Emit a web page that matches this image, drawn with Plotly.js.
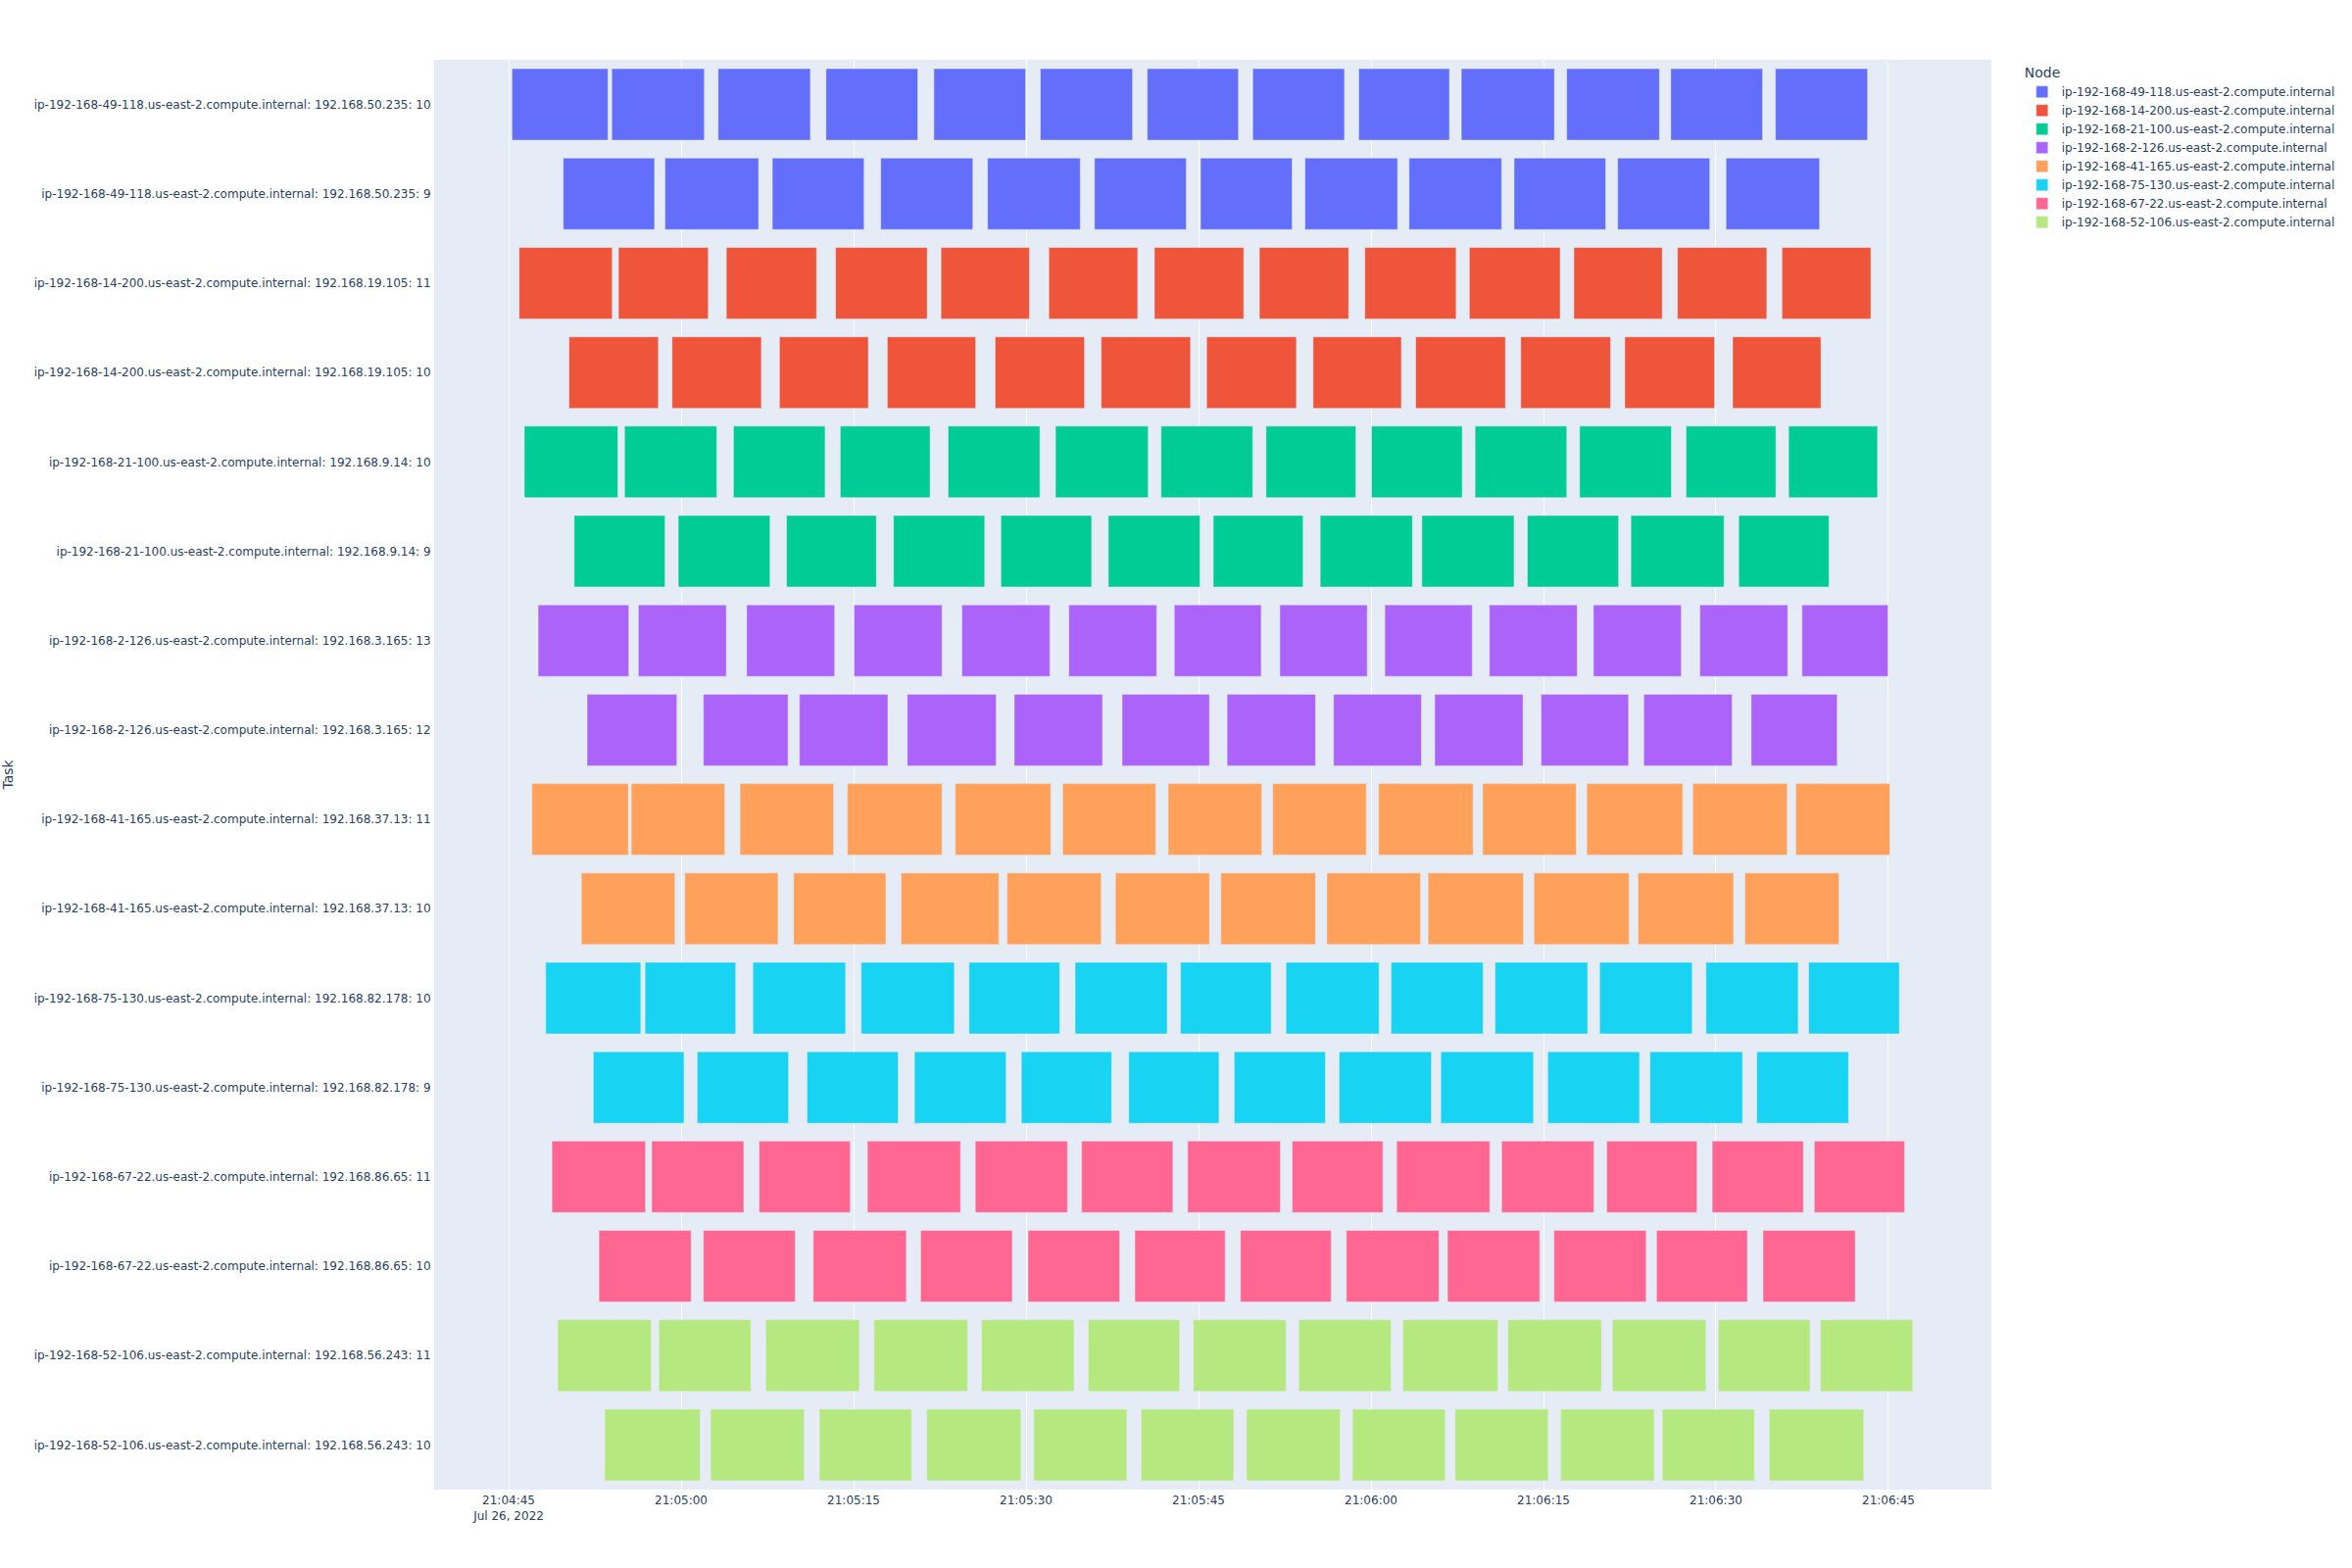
<!DOCTYPE html>
<html>
<head>
<meta charset="utf-8">
<script src="https://cdn.plot.ly/plotly-3.0.1.min.js"></script>
<style>html,body{margin:0;padding:0;background:#fff}#chart{width:2400px;height:1600px}</style>
</head>
<body>
<div id="chart"></div>
<script>
// Base time of the x axis reading: offsets below are seconds after 2022-07-26 21:04:45
const baseDay = "2022-07-26";
const baseClockSec = 21 * 3600 + 4 * 60 + 45;

const nodes = [
  "ip-192-168-49-118.us-east-2.compute.internal",
  "ip-192-168-14-200.us-east-2.compute.internal",
  "ip-192-168-21-100.us-east-2.compute.internal",
  "ip-192-168-2-126.us-east-2.compute.internal",
  "ip-192-168-41-165.us-east-2.compute.internal",
  "ip-192-168-75-130.us-east-2.compute.internal",
  "ip-192-168-67-22.us-east-2.compute.internal",
  "ip-192-168-52-106.us-east-2.compute.internal"
];

const tasks = [
  "ip-192-168-49-118.us-east-2.compute.internal: 192.168.50.235: 10",
  "ip-192-168-49-118.us-east-2.compute.internal: 192.168.50.235: 9",
  "ip-192-168-14-200.us-east-2.compute.internal: 192.168.19.105: 11",
  "ip-192-168-14-200.us-east-2.compute.internal: 192.168.19.105: 10",
  "ip-192-168-21-100.us-east-2.compute.internal: 192.168.9.14: 10",
  "ip-192-168-21-100.us-east-2.compute.internal: 192.168.9.14: 9",
  "ip-192-168-2-126.us-east-2.compute.internal: 192.168.3.165: 13",
  "ip-192-168-2-126.us-east-2.compute.internal: 192.168.3.165: 12",
  "ip-192-168-41-165.us-east-2.compute.internal: 192.168.37.13: 11",
  "ip-192-168-41-165.us-east-2.compute.internal: 192.168.37.13: 10",
  "ip-192-168-75-130.us-east-2.compute.internal: 192.168.82.178: 10",
  "ip-192-168-75-130.us-east-2.compute.internal: 192.168.82.178: 9",
  "ip-192-168-67-22.us-east-2.compute.internal: 192.168.86.65: 11",
  "ip-192-168-67-22.us-east-2.compute.internal: 192.168.86.65: 10",
  "ip-192-168-52-106.us-east-2.compute.internal: 192.168.56.243: 11",
  "ip-192-168-52-106.us-east-2.compute.internal: 192.168.56.243: 10"
];

// Start / finish (seconds after 21:04:45) for each task row
const start_49_10 = [0.29, 8.97, 18.22, 27.60, 36.98, 46.24, 55.54, 64.71, 73.93, 82.85, 92.02, 101.07, 110.17];
const end_49_10   = [8.64, 17.02, 26.24, 35.58, 44.96, 54.26, 63.47, 72.69, 81.82, 90.95, 100.08, 109.05, 118.18];
const start_49_9  = [4.75, 13.60, 22.93, 32.36, 41.65, 50.95, 60.17, 69.26, 78.31, 87.44, 96.45, 105.87];
const end_49_9    = [12.69, 21.74, 30.91, 40.37, 49.71, 58.93, 68.14, 77.31, 86.36, 95.41, 104.46, 114.01];

const start_14_11 = [0.91, 9.55, 18.93, 28.43, 37.60, 46.98, 56.16, 65.29, 74.46, 83.55, 92.64, 101.65, 110.74];
const end_14_11   = [9.01, 17.36, 26.78, 36.40, 45.29, 54.71, 63.93, 73.06, 82.40, 91.45, 100.33, 109.42, 118.47];
const start_14_10 = [5.25, 14.21, 23.55, 32.93, 42.31, 51.53, 60.70, 69.96, 78.88, 88.02, 97.07, 106.45];
const end_14_10   = [13.02, 21.98, 31.28, 40.62, 50.08, 59.30, 68.51, 77.64, 86.69, 95.83, 104.88, 114.13];

const start_21_10 = [1.36, 10.08, 19.55, 28.84, 38.22, 47.56, 56.74, 65.87, 75.04, 84.05, 93.14, 102.40, 111.32];
const end_21_10   = [9.50, 18.10, 27.52, 36.65, 46.20, 55.62, 64.71, 73.68, 82.93, 92.02, 101.12, 110.21, 119.05];
const start_21_9  = [5.70, 14.75, 24.17, 33.47, 42.81, 52.15, 61.28, 70.58, 79.42, 88.60, 97.60, 106.98];
const end_21_9    = [13.60, 22.73, 31.98, 41.40, 50.70, 60.12, 69.09, 78.60, 87.44, 96.53, 105.70, 114.83];

const start_2_13  = [2.56, 11.28, 20.70, 30.04, 39.42, 48.72, 57.89, 67.07, 76.20, 85.29, 94.34, 103.60, 112.48];
const end_2_13    = [10.45, 18.93, 28.35, 37.69, 47.07, 56.36, 65.45, 74.67, 83.80, 92.93, 101.98, 111.24, 119.96];
const start_2_12  = [6.82, 16.94, 25.29, 34.67, 43.97, 53.35, 62.48, 71.74, 80.54, 89.79, 98.72, 108.06];
const end_2_12    = [14.63, 24.30, 32.98, 42.40, 51.65, 60.95, 70.17, 79.38, 88.22, 97.40, 106.40, 115.54];

const start_41_11 = [2.02, 10.66, 20.12, 29.46, 38.84, 48.18, 57.36, 66.45, 75.66, 84.71, 93.76, 102.98, 111.94];
const end_41_11   = [10.41, 18.80, 28.26, 37.69, 47.15, 56.28, 65.50, 74.59, 83.88, 92.85, 102.11, 111.20, 120.12];
const start_41_10 = [6.32, 15.33, 24.79, 34.13, 43.35, 52.77, 61.94, 71.16, 79.96, 89.17, 98.22, 107.52];
const end_41_10   = [14.46, 23.43, 32.81, 42.64, 51.53, 60.95, 70.17, 79.30, 88.26, 97.44, 106.53, 115.70];

const start_75_10 = [3.22, 11.86, 21.24, 30.66, 40.04, 49.26, 58.43, 67.60, 76.74, 85.79, 94.88, 104.13, 113.06];
const end_75_10   = [11.49, 19.75, 29.30, 38.76, 47.93, 57.27, 66.32, 75.70, 84.75, 93.84, 102.93, 112.15, 120.95];
const start_75_9  = [7.36, 16.40, 25.95, 35.29, 44.59, 53.93, 63.10, 72.23, 81.07, 90.37, 99.26, 108.55];
const end_75_9    = [15.25, 24.34, 33.88, 43.26, 52.44, 61.78, 71.03, 80.25, 89.13, 98.35, 107.31, 116.53];

const start_67_11 = [3.76, 12.44, 21.78, 31.20, 40.58, 49.83, 59.05, 68.14, 77.23, 86.36, 95.50, 104.67, 113.55];
const end_67_11   = [11.90, 20.45, 29.71, 39.30, 48.60, 57.77, 67.11, 76.03, 85.33, 94.38, 103.35, 112.60, 121.40];
const start_67_10 = [7.85, 16.94, 26.49, 35.83, 45.17, 54.46, 63.64, 72.85, 81.65, 90.91, 99.83, 109.09];
const end_67_10   = [15.87, 24.92, 34.59, 43.80, 53.14, 62.31, 71.53, 80.91, 89.67, 98.93, 107.73, 117.11];

const start_52_11 = [4.26, 13.06, 22.36, 31.78, 41.12, 50.41, 59.55, 68.72, 77.77, 86.90, 95.99, 105.21, 114.09];
const end_52_11   = [12.40, 21.07, 30.50, 39.92, 49.17, 58.35, 67.60, 76.74, 86.03, 95.04, 104.13, 113.18, 122.11];
const start_52_10 = [8.35, 17.56, 27.02, 36.36, 45.66, 55.00, 64.17, 73.39, 82.31, 91.49, 100.33, 109.63];
const end_52_10   = [16.65, 25.70, 35.04, 44.55, 53.76, 63.06, 72.31, 81.45, 90.41, 99.63, 108.35, 117.85];

const colors = ["#636efa", "#EF553B", "#00cc96", "#ab63fa", "#FFA15A", "#19d3f3", "#FF6692", "#B6E880"];

// rows: [task index, node index, starts, ends]
const rows = [
  [0, 0, start_49_10, end_49_10], [1, 0, start_49_9, end_49_9],
  [2, 1, start_14_11, end_14_11], [3, 1, start_14_10, end_14_10],
  [4, 2, start_21_10, end_21_10], [5, 2, start_21_9, end_21_9],
  [6, 3, start_2_13, end_2_13],   [7, 3, start_2_12, end_2_12],
  [8, 4, start_41_11, end_41_11], [9, 4, start_41_10, end_41_10],
  [10, 5, start_75_10, end_75_10], [11, 5, start_75_9, end_75_9],
  [12, 6, start_67_11, end_67_11], [13, 6, start_67_10, end_67_10],
  [14, 7, start_52_11, end_52_11], [15, 7, start_52_10, end_52_10]
];

function pad(n, w) { return String(n).padStart(w, "0"); }
function toDate(sec) {
  const totalMs = Math.round((baseClockSec + sec) * 1000);
  const h = Math.floor(totalMs / 3600000);
  const m = Math.floor((totalMs % 3600000) / 60000);
  const s = Math.floor((totalMs % 60000) / 1000);
  const ms = totalMs % 1000;
  return baseDay + " " + pad(h, 2) + ":" + pad(m, 2) + ":" + pad(s, 2) + "." + pad(ms, 3);
}

const traces = nodes.map((node, ni) => {
  const base = [], dur = [], y = [];
  rows.filter(r => r[1] === ni).forEach(r => {
    r[2].forEach((st, i) => {
      base.push(toDate(st));
      dur.push(Math.round((r[3][i] - st) * 1000));
      y.push(tasks[r[0]]);
    });
  });
  return {
    type: "bar", orientation: "h", name: node, legendgroup: node,
    base: base, x: dur, y: y,
    marker: { color: colors[ni], line: { color: "#E5ECF6", width: 0.5 } },
    xaxis: "x", yaxis: "y"
  };
});

const layout = {
  width: 2400, height: 1600,
  font: { family: '"DejaVu Sans", verdana, arial, sans-serif', size: 12, color: "#2a3f5f" },
  paper_bgcolor: "#ffffff", plot_bgcolor: "#E5ECF6",
  barmode: "overlay",
  margin: { l: 443, r: 368, t: 61, b: 80, autoexpand: false },
  xaxis: {
    type: "date",
    range: [toDate(-6.48), toDate(128.95)],
    tick0: toDate(0), dtick: 15000,
    gridcolor: "white", linecolor: "white", zeroline: false,
    automargin: false, ticks: ""
  },
  yaxis: {
    type: "category",
    categoryorder: "array", categoryarray: tasks,
    autorange: "reversed",
    title: { text: "Task", standoff: 18 },
    showgrid: false, linecolor: "white", zeroline: false,
    automargin: true, ticks: ""
  },
  legend: { title: { text: "Node" }, tracegroupgap: 0 },
  showlegend: true
};

Plotly.newPlot("chart", traces, layout, { displayModeBar: false });
</script>
</body>
</html>
